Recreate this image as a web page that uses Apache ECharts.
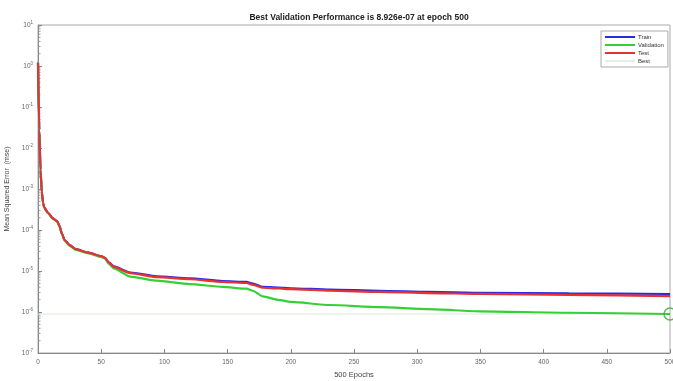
<!DOCTYPE html>
<html><head><meta charset="utf-8">
<script src="https://cdn.jsdelivr.net/npm/echarts@6/dist/echarts.min.js"></script>
<style>html,body{margin:0;padding:0;background:#fff}#c{width:673px;height:381px}</style>
</head><body><div id="c"></div>
<script>
const epochs = [0,1,2,3,4,5,8,12,15,17,19,21,25,30,40,50,53,56,60,73,94,120,146,165,170,178,190,200,231,270,309,350,420,500];
const trainMse = [1.2,0.028,0.0029,8.5e-4,4.6e-4,3.5e-4,2.6e-4,1.9e-4,1.66e-4,1.26e-4,8e-5,5.7e-5,4.3e-5,3.4e-5,2.8e-5,2.3e-5,2.1e-5,1.62e-5,1.3e-5,9.2e-6,7.4e-6,6.6e-6,5.7e-6,5.4e-6,4.9e-6,4.1e-6,3.95e-6,3.8e-6,3.5e-6,3.3e-6,3.1e-6,2.95e-6,2.85e-6,2.75e-6];
const validationMse = [1.2,0.028,0.0029,8.4e-4,4.5e-4,3.45e-4,2.55e-4,1.87e-4,1.63e-4,1.23e-4,7.8e-5,5.5e-5,4.1e-5,3.25e-5,2.7e-5,2.2e-5,2.0e-5,1.5e-5,1.15e-5,7.3e-6,5.8e-6,4.8e-6,4.1e-6,3.7e-6,3.3e-6,2.4e-6,1.98e-6,1.76e-6,1.48e-6,1.32e-6,1.17e-6,1.04e-6,9.6e-7,8.926e-7];
const testMse = [1.2,0.028,0.0029,8.5e-4,4.6e-4,3.5e-4,2.6e-4,1.9e-4,1.66e-4,1.26e-4,8e-5,5.7e-5,4.3e-5,3.4e-5,2.8e-5,2.3e-5,2.1e-5,1.6e-5,1.26e-5,8.9e-6,7.1e-6,6.3e-6,5.4e-6,5.1e-6,4.6e-6,3.9e-6,3.75e-6,3.6e-6,3.3e-6,3.1e-6,2.9e-6,2.76e-6,2.62e-6,2.45e-6];
const bestEpoch = 500;
const bestMse = 8.926e-7;
const xTicks = [0,50,100,150,200,250,300,350,400,450,500];
const yDecades = [-7,-6,-5,-4,-3,-2,-1,0,1];
const minorMultipliers = [2,3,4,5,6,7,8,9];

const pairs = arr => epochs.map((e,i)=>[e,arr[i]]);
const minorData = [];
yDecades.slice(0,-1).forEach(d => minorMultipliers.forEach(m => minorData.push([0, m*Math.pow(10,d)])));

const FONT = '"Liberation Sans", Arial, sans-serif';
const chart = echarts.init(document.getElementById('c'), null, {renderer:'canvas'});
const lineCommon = {showSymbol:false, smooth:0.2, smoothMonotone:'x'};
chart.setOption({
  animation:false,
  textStyle:{fontFamily:FONT},
  title:{text:'Best Validation Performance is 8.926e-07 at epoch 500', left:354, top:8, textAlign:'center',
    textStyle:{fontSize:8.5, fontWeight:'bold', color:'#222', fontFamily:FONT}},
  legend:{
    orient:'vertical', left:601, top:31, itemWidth:30, itemHeight:2, itemGap:2,
    padding:[3,4,3,4], borderColor:'#aaa', borderWidth:1, backgroundColor:'#fff',
    textStyle:{fontSize:6, color:'#333', padding:[0,0,0,-2]},
    data:[
      {name:'Train', icon:'rect'},
      {name:'Validation', icon:'rect'},
      {name:'Test', icon:'rect'},
      {name:'Best', icon:'rect', itemStyle:{color:'#e6efe6'}}
    ]
  },
  grid:{left:38, right:3, top:25, bottom:28, containLabel:false, outerBoundsMode:'none',
    show:true, borderColor:'#aaa', borderWidth:1},
  xAxis:{
    type:'value', min:0, max:500, interval:50,
    name:'500 Epochs', nameLocation:'middle', nameGap:17,
    nameTextStyle:{fontSize:7.5, color:'#444'},
    axisLine:{show:true, lineStyle:{color:'#888'}},
    axisTick:{show:true, inside:true, length:4, lineStyle:{color:'#888'}},
    axisLabel:{fontSize:6.5, color:'#666', margin:6, hideOverlap:false},
    splitLine:{show:false}
  },
  yAxis:{
    type:'log', logBase:10, min:1e-7, max:10, interval:1,
    name:'Mean Squared Error  (mse)', nameLocation:'middle', nameGap:22, nameRotate:90,
    nameTextStyle:{fontSize:7, color:'#444'},
    axisLine:{show:true, lineStyle:{color:'#888'}},
    axisTick:{show:true, inside:true, length:4, lineStyle:{color:'#888'}},
    axisLabel:{color:'#666', margin:5,
      formatter: v => '{b|10}{s|' + Math.round(Math.log10(v)) + '}',
      rich:{b:{fontSize:6.5, color:'#666'}, s:{fontSize:4.5, color:'#666', verticalAlign:'top', padding:[0,0,4,0]}}},
    splitLine:{show:false}
  },
  series:[
    {type:'custom', name:'minor', silent:true, data:minorData, z:1,
      renderItem:(params, api) => {
        const p = api.coord([api.value(0), api.value(1)]);
        return {type:'line', shape:{x1:p[0], y1:p[1], x2:p[0]+2.5, y2:p[1]}, style:{stroke:'#999', lineWidth:1}};
      }},
    Object.assign({type:'line', name:'Train', data:pairs(trainMse), color:'#2a2ae6',
      lineStyle:{width:2.2, color:'#2a2ae6'}, z:2}, lineCommon),
    Object.assign({type:'line', name:'Validation', data:pairs(validationMse), color:'#35d035',
      lineStyle:{width:2.2, color:'#35d035'}, z:3}, lineCommon),
    Object.assign({type:'line', name:'Test', data:pairs(testMse), color:'#e63232',
      lineStyle:{width:2.2, color:'#e63232'}, z:4}, lineCommon),
    {type:'line', name:'Best', data:[[0,bestMse],[500,bestMse]], showSymbol:false, color:'#dfe9df',
      lineStyle:{width:1, color:'#dbe8db'}, z:1},
    {type:'scatter', name:'bestMarker', data:[[bestEpoch,bestMse]], symbol:'circle', symbolSize:12,
      itemStyle:{color:'rgba(0,0,0,0)', borderColor:'#2fae2f', borderWidth:1.5}, z:5, clip:false}
  ]
});
</script></body></html>
